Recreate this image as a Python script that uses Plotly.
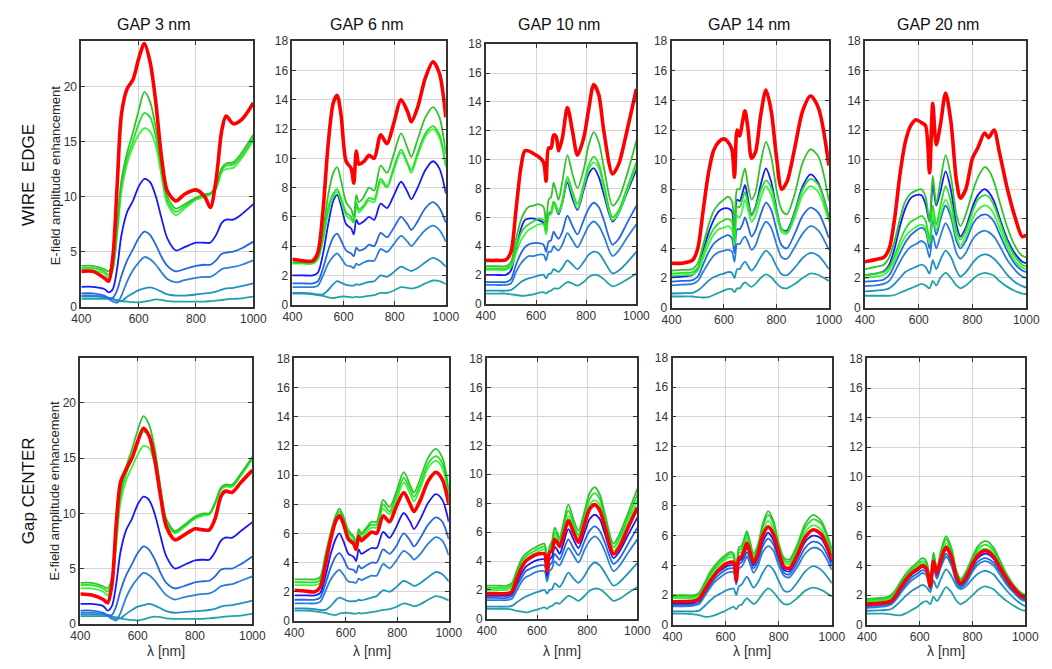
import plotly.graph_objects as go

W, H = 1052, 669
FONT = "Liberation Sans, Arial, sans-serif"

# Curve order (bottom -> top in drawing order) and styling
series = ["teal2", "teal1", "blue3", "blue2", "blue1", "green3", "green2", "green1", "red"]
colors = {
    "red": "#ff0000",
    "green1": "#2fc42a",
    "green2": "#25e025",
    "green3": "#3cf53c",
    "blue1": "#1818ff",
    "blue2": "#2466e6",
    "blue3": "#2a80d8",
    "teal1": "#2191c0",
    "teal2": "#22a3a6",
}
widths = {k: 1.8 for k in colors}
widths["red"] = 3.6

# ---------------- GAP 3 nm ----------------
wl_gap3 = [400, 440, 480, 495, 510, 525, 540, 560, 580, 600, 620, 640, 660, 680,
           700, 730, 760, 800, 830, 850, 870, 890, 905, 930, 960, 1000]
edge_gap3 = dict(
    red=[3.2, 3.2, 2.6, 2.3, 4.5, 11.0, 17.5, 19.8, 20.6, 22.5, 23.9, 22.2, 18.5, 13.5, 10.5, 9.6, 10.2, 10.6, 10.0, 9.0, 11.5, 16.0, 17.3, 16.6, 17.0, 18.5],
    green1=[3.7, 3.7, 3.4, 3.2, 4.0, 7.5, 11.5, 14.0, 15.8, 17.8, 19.5, 18.6, 16.2, 12.8, 10.0, 8.9, 9.3, 9.9, 10.2, 10.3, 11.0, 12.6, 13.0, 13.1, 14.0, 15.6],
    green2=[3.5, 3.5, 3.2, 2.9, 3.6, 7.0, 11.0, 13.5, 15.0, 16.6, 17.6, 17.2, 15.4, 12.3, 9.6, 8.6, 9.1, 9.8, 10.1, 10.2, 10.8, 12.4, 12.8, 12.9, 13.7, 15.3],
    green3=[3.3, 3.3, 3.0, 2.6, 3.3, 6.5, 10.5, 13.0, 14.5, 15.6, 16.2, 15.9, 14.6, 11.8, 9.3, 8.3, 8.9, 9.7, 10.0, 10.2, 10.7, 12.2, 12.5, 12.6, 13.5, 15.1],
    blue1=[1.8, 1.8, 1.6, 1.3, 1.6, 3.5, 6.5, 8.6, 9.6, 10.9, 11.6, 11.3, 10.0, 8.0, 6.2, 5.1, 5.4, 5.8, 5.8, 5.8, 6.5, 7.6, 7.9, 7.9, 8.4, 9.3],
    blue2=[1.2, 1.2, 1.0, 0.8, 0.8, 1.5, 2.8, 4.2, 5.2, 6.2, 6.8, 6.5, 5.6, 4.5, 3.7, 3.2, 3.4, 3.7, 3.8, 3.8, 4.2, 4.8, 4.9, 5.0, 5.3, 5.9],
    blue3=[1.0, 1.0, 0.9, 0.7, 0.45, 0.35, 1.0, 2.3, 3.3, 4.0, 4.5, 4.3, 3.8, 3.1, 2.5, 2.2, 2.4, 2.6, 2.7, 2.7, 3.0, 3.4, 3.5, 3.6, 3.8, 4.2],
    teal1=[0.9, 0.9, 0.85, 0.8, 0.7, 0.5, 0.5, 0.9, 1.2, 1.5, 1.65, 1.75, 1.6, 1.35, 1.1, 1.0, 1.0, 1.1, 1.2, 1.25, 1.35, 1.55, 1.65, 1.7, 1.85, 2.1],
    teal2=[0.7, 0.7, 0.7, 0.7, 0.65, 0.6, 0.5, 0.45, 0.4, 0.38, 0.45, 0.55, 0.65, 0.6, 0.5, 0.45, 0.45, 0.45, 0.45, 0.5, 0.55, 0.6, 0.65, 0.7, 0.75, 0.9],
)
center_gap3 = dict(
    red=[2.7, 2.6, 2.2, 1.9, 3.5, 9.0, 12.8, 14.0, 15.0, 16.5, 17.7, 17.0, 14.8, 11.5, 8.8, 7.6, 8.0, 8.6, 8.5, 8.5, 9.5, 11.5, 12.0, 11.9, 12.8, 13.9],
    green1=[3.7, 3.7, 3.4, 3.2, 4.2, 8.0, 12.0, 14.2, 15.8, 17.5, 18.8, 18.0, 15.8, 12.3, 9.5, 8.4, 8.9, 9.7, 10.0, 10.0, 11.0, 12.3, 12.6, 12.6, 13.6, 15.1],
    green2=[3.5, 3.5, 3.2, 2.9, 3.8, 7.5, 11.5, 13.6, 15.0, 16.4, 17.4, 17.0, 15.2, 12.0, 9.3, 8.3, 8.8, 9.6, 9.9, 9.95, 10.9, 12.2, 12.5, 12.5, 13.5, 15.0],
    green3=[3.2, 3.2, 2.9, 2.6, 3.4, 7.0, 11.0, 13.0, 14.2, 15.3, 16.1, 15.9, 14.4, 11.6, 9.1, 8.2, 8.7, 9.5, 9.8, 9.9, 10.8, 12.1, 12.4, 12.4, 13.4, 14.9],
    blue1=[1.8, 1.8, 1.6, 1.2, 1.6, 3.6, 6.5, 8.5, 9.5, 10.8, 11.5, 11.2, 9.9, 7.9, 6.1, 5.0, 5.3, 5.75, 5.8, 5.8, 6.5, 7.5, 7.8, 7.8, 8.4, 9.2],
    blue2=[1.2, 1.2, 1.0, 0.8, 0.8, 1.6, 3.0, 4.4, 5.4, 6.4, 7.0, 6.7, 5.8, 4.6, 3.7, 3.2, 3.4, 3.75, 3.85, 3.9, 4.3, 4.9, 5.0, 5.0, 5.4, 6.1],
    blue3=[1.0, 1.0, 0.9, 0.7, 0.45, 0.3, 1.0, 2.4, 3.4, 4.1, 4.6, 4.4, 3.9, 3.2, 2.6, 2.2, 2.4, 2.6, 2.7, 2.75, 3.0, 3.4, 3.5, 3.6, 3.9, 4.3],
    teal1=[0.85, 0.85, 0.8, 0.75, 0.6, 0.45, 0.5, 0.9, 1.25, 1.55, 1.7, 1.8, 1.65, 1.4, 1.15, 1.0, 1.05, 1.15, 1.2, 1.25, 1.35, 1.55, 1.65, 1.7, 1.85, 2.1],
    teal2=[0.7, 0.7, 0.7, 0.7, 0.65, 0.6, 0.5, 0.4, 0.35, 0.3, 0.4, 0.55, 0.65, 0.6, 0.5, 0.45, 0.45, 0.45, 0.45, 0.5, 0.55, 0.6, 0.65, 0.7, 0.75, 0.9],
)

# ---------------- GAP 6 nm ----------------
wl_gap6 = [400, 440, 480, 500, 520, 540, 560, 575, 590, 610, 630, 640, 650, 660,
           680, 700, 720, 745, 770, 795, 825, 850, 865, 890, 920, 950, 975, 1000]
edge_gap6 = dict(
    red=[3.1, 3.0, 3.0, 3.6, 6.5, 11.0, 13.8, 14.3, 13.0, 9.8, 9.3, 8.3, 10.5, 9.6, 9.8, 10.2, 10.0, 11.6, 11.0, 12.3, 14.0, 13.2, 12.5, 13.5, 15.5, 16.6, 15.8, 12.8],
    green1=[2.9, 2.9, 2.9, 3.3, 5.0, 7.5, 9.0, 9.4, 8.5, 7.0, 6.5, 6.0, 7.5, 7.0, 7.4, 8.0, 7.8, 9.5, 9.0, 10.2, 11.7, 10.7, 10.1, 11.3, 12.8, 13.5, 12.8, 10.3],
    green2=[2.85, 2.85, 2.85, 3.2, 4.6, 6.6, 7.6, 7.9, 7.3, 6.3, 6.0, 5.7, 7.0, 6.5, 6.8, 7.3, 7.2, 8.6, 8.1, 9.3, 10.6, 9.7, 9.2, 10.4, 11.7, 12.2, 11.6, 9.5],
    green3=[2.8, 2.8, 2.8, 3.1, 4.4, 6.3, 7.4, 7.7, 7.1, 6.1, 5.8, 5.6, 6.8, 6.3, 6.7, 7.1, 7.0, 8.4, 8.0, 9.1, 10.4, 9.6, 9.0, 10.2, 11.5, 12.0, 11.4, 9.4],
    blue1=[2.0, 2.0, 2.0, 2.2, 3.5, 5.5, 7.1, 7.5, 6.8, 5.5, 5.2, 4.8, 5.8, 5.5, 5.7, 6.0, 5.8, 6.9, 6.6, 7.4, 8.4, 7.7, 7.2, 8.0, 9.2, 9.8, 9.3, 7.6],
    blue2=[1.45, 1.45, 1.45, 1.6, 2.5, 3.7, 4.6, 4.85, 4.4, 3.7, 3.5, 3.3, 3.9, 3.7, 3.8, 4.1, 4.0, 4.9, 4.6, 5.2, 6.0, 5.5, 5.1, 5.7, 6.6, 7.0, 6.6, 5.6],
    blue3=[1.2, 1.2, 1.2, 1.3, 2.0, 2.8, 3.3, 3.5, 3.2, 2.7, 2.6, 2.5, 2.8, 2.7, 2.9, 3.0, 3.0, 3.8, 3.6, 4.1, 4.7, 4.3, 4.0, 4.5, 5.1, 5.4, 5.1, 4.3],
    teal1=[0.8, 0.8, 0.75, 0.7, 0.7, 1.0, 1.4, 1.6, 1.5, 1.35, 1.3, 1.3, 1.4, 1.35, 1.45, 1.55, 1.6, 2.0, 1.9, 2.2, 2.6, 2.4, 2.3, 2.5, 2.9, 3.2, 3.0, 2.6],
    teal2=[0.75, 0.75, 0.7, 0.65, 0.6, 0.5, 0.45, 0.5, 0.55, 0.55, 0.5, 0.5, 0.55, 0.5, 0.55, 0.6, 0.65, 0.8, 0.8, 0.95, 1.2, 1.15, 1.1, 1.2, 1.45, 1.65, 1.6, 1.4],
)
center_gap6 = dict(
    red=[2.1, 2.05, 2.0, 2.3, 3.8, 5.5, 6.8, 7.2, 6.7, 5.6, 5.3, 4.9, 5.8, 5.5, 5.8, 6.1, 6.0, 7.2, 6.8, 7.8, 8.8, 8.0, 7.5, 8.3, 9.6, 10.2, 9.7, 8.0],
    green1=[2.85, 2.85, 2.85, 3.0, 4.5, 6.0, 7.2, 7.7, 7.2, 6.2, 5.8, 5.4, 6.3, 6.0, 6.4, 6.8, 6.8, 8.3, 7.8, 8.8, 10.2, 9.3, 8.8, 9.8, 11.2, 11.8, 11.2, 9.0],
    green2=[2.65, 2.65, 2.65, 2.8, 4.3, 5.8, 7.0, 7.5, 7.0, 6.0, 5.7, 5.3, 6.2, 5.9, 6.3, 6.6, 6.6, 8.0, 7.5, 8.5, 9.8, 9.0, 8.5, 9.4, 10.8, 11.3, 10.8, 8.7],
    green3=[2.45, 2.45, 2.45, 2.6, 4.1, 5.6, 6.8, 7.3, 6.8, 5.8, 5.5, 5.1, 6.0, 5.7, 6.1, 6.4, 6.4, 7.7, 7.3, 8.2, 9.5, 8.7, 8.2, 9.1, 10.5, 11.0, 10.5, 8.5],
    blue1=[1.75, 1.75, 1.75, 1.9, 3.0, 4.5, 5.6, 6.0, 5.5, 4.6, 4.4, 4.1, 4.9, 4.6, 4.8, 5.0, 5.0, 6.1, 5.7, 6.4, 7.4, 6.8, 6.3, 7.0, 8.1, 8.7, 8.3, 6.8],
    blue2=[1.45, 1.45, 1.45, 1.6, 2.5, 3.6, 4.4, 4.65, 4.3, 3.6, 3.5, 3.3, 3.8, 3.6, 3.8, 4.0, 4.0, 4.9, 4.6, 5.1, 6.0, 5.5, 5.1, 5.7, 6.6, 7.1, 6.8, 5.6],
    blue3=[1.2, 1.2, 1.2, 1.3, 2.0, 2.8, 3.3, 3.5, 3.2, 2.7, 2.65, 2.6, 2.9, 2.8, 2.95, 3.1, 3.1, 3.9, 3.6, 4.1, 4.8, 4.5, 4.2, 4.6, 5.3, 5.75, 5.5, 4.5],
    teal1=[0.85, 0.85, 0.8, 0.75, 0.75, 1.0, 1.4, 1.6, 1.5, 1.35, 1.35, 1.35, 1.45, 1.4, 1.5, 1.6, 1.7, 2.1, 2.0, 2.3, 2.75, 2.55, 2.4, 2.6, 3.0, 3.35, 3.2, 2.7],
    teal2=[0.7, 0.7, 0.65, 0.6, 0.55, 0.45, 0.4, 0.5, 0.55, 0.55, 0.5, 0.5, 0.55, 0.5, 0.55, 0.6, 0.65, 0.75, 0.8, 0.95, 1.2, 1.1, 1.0, 1.15, 1.45, 1.7, 1.6, 1.4],
)

# ---------------- GAP 10 nm ----------------
wl_gap10 = [400, 440, 480, 500, 520, 540, 555, 570, 590, 610, 630, 640, 650, 660, 670,
            680, 690, 705, 725, 745, 765, 790, 810, 830, 850, 870, 905, 930, 960, 1000]
edge_gap10 = dict(
    red=[3.0, 3.0, 3.05, 3.6, 6.5, 9.5, 10.6, 10.6, 10.4, 10.2, 9.8, 8.5, 10.8, 10.8, 11.7, 11.6, 10.6, 11.5, 13.6, 12.0, 10.3, 11.5, 13.5, 15.2, 14.5, 12.0, 9.0, 9.7, 11.8, 14.9],
    green1=[2.6, 2.6, 2.6, 2.9, 4.5, 5.8, 6.4, 6.7, 6.8, 6.9, 6.7, 5.5, 7.2, 7.4, 8.4, 7.8, 7.2, 8.5, 10.3, 9.0, 8.0, 9.3, 11.0, 11.9, 11.2, 9.5, 6.8, 7.3, 8.8, 11.3],
    green2=[2.45, 2.45, 2.45, 2.7, 3.9, 4.9, 5.3, 5.5, 5.7, 5.9, 5.8, 5.0, 6.3, 6.4, 7.1, 6.8, 6.4, 7.2, 8.8, 7.8, 6.9, 8.3, 9.6, 10.2, 9.7, 8.3, 6.0, 6.5, 7.9, 9.8],
    green3=[2.35, 2.35, 2.35, 2.55, 3.5, 4.4, 4.8, 5.1, 5.3, 5.5, 5.5, 4.8, 6.1, 6.2, 6.9, 6.6, 6.3, 7.0, 8.6, 7.6, 6.6, 8.1, 9.3, 9.8, 9.4, 8.0, 5.8, 6.3, 7.7, 9.6],
    blue1=[2.0, 2.0, 2.0, 2.3, 3.8, 5.2, 5.8, 5.9, 5.9, 5.8, 5.6, 5.0, 6.2, 6.3, 7.0, 6.6, 6.2, 7.0, 8.4, 7.3, 6.5, 7.9, 9.0, 9.4, 8.8, 7.6, 5.7, 6.3, 7.6, 9.3],
    blue2=[1.5, 1.5, 1.5, 1.7, 2.7, 3.5, 3.9, 4.1, 4.2, 4.2, 4.1, 3.6, 4.3, 4.4, 5.0, 4.7, 4.5, 5.0, 6.1, 5.4, 4.8, 5.8, 6.6, 7.0, 6.7, 5.8, 4.1, 4.5, 5.5, 6.8],
    blue3=[1.3, 1.3, 1.3, 1.4, 2.2, 2.8, 3.1, 3.3, 3.3, 3.4, 3.4, 3.0, 3.6, 3.6, 4.0, 3.8, 3.7, 4.1, 4.9, 4.4, 3.9, 4.7, 5.4, 5.7, 5.4, 4.7, 3.3, 3.7, 4.5, 5.5],
    teal1=[0.9, 0.9, 0.9, 0.95, 1.2, 1.5, 1.65, 1.75, 1.85, 1.95, 2.0, 1.75, 2.05, 2.1, 2.4, 2.3, 2.2, 2.5, 3.0, 2.7, 2.4, 2.9, 3.4, 3.6, 3.5, 3.0, 2.1, 2.3, 2.8, 3.6],
    teal2=[0.7, 0.7, 0.7, 0.65, 0.6, 0.55, 0.55, 0.6, 0.65, 0.75, 0.8, 0.7, 0.85, 0.9, 1.05, 1.05, 1.05, 1.25, 1.5, 1.4, 1.25, 1.5, 1.85, 2.0, 1.95, 1.7, 1.2, 1.35, 1.65, 2.1],
)
center_gap10 = dict(
    red=[1.75, 1.75, 1.75, 1.9, 2.8, 3.6, 4.0, 4.2, 4.4, 4.5, 4.5, 3.3, 4.6, 4.7, 5.5, 5.3, 5.0, 5.7, 6.8, 6.0, 5.3, 6.6, 7.6, 7.9, 7.5, 6.4, 4.5, 5.0, 6.2, 7.7],
    green1=[2.3, 2.3, 2.3, 2.5, 3.4, 4.2, 4.5, 4.7, 4.9, 5.1, 5.2, 4.0, 5.0, 5.4, 6.3, 6.0, 5.6, 6.6, 7.9, 6.9, 6.1, 7.5, 8.7, 9.1, 8.6, 7.3, 5.2, 5.9, 7.2, 9.0],
    green2=[2.15, 2.15, 2.15, 2.35, 3.2, 4.0, 4.3, 4.5, 4.7, 4.9, 5.0, 3.8, 4.8, 5.2, 6.0, 5.8, 5.4, 6.3, 7.5, 6.6, 5.8, 7.2, 8.3, 8.7, 8.3, 7.0, 4.95, 5.6, 6.9, 8.6],
    green3=[2.0, 2.0, 2.0, 2.2, 3.0, 3.8, 4.1, 4.3, 4.5, 4.7, 4.8, 3.6, 4.7, 5.0, 5.8, 5.6, 5.2, 6.0, 7.1, 6.3, 5.6, 6.9, 7.9, 8.2, 7.9, 6.7, 4.7, 5.3, 6.6, 8.2],
    blue1=[1.6, 1.6, 1.6, 1.75, 2.5, 3.2, 3.6, 3.8, 4.0, 4.1, 4.1, 3.0, 4.1, 4.3, 5.0, 4.8, 4.5, 5.2, 6.2, 5.5, 4.9, 6.0, 6.9, 7.2, 6.9, 5.9, 4.2, 4.7, 5.7, 7.0],
    blue2=[1.45, 1.45, 1.45, 1.6, 2.3, 2.9, 3.3, 3.45, 3.6, 3.7, 3.7, 2.8, 3.7, 3.9, 4.5, 4.3, 4.1, 4.7, 5.5, 4.9, 4.4, 5.4, 6.1, 6.4, 6.1, 5.3, 3.8, 4.2, 5.1, 6.3],
    blue3=[1.3, 1.3, 1.3, 1.4, 2.0, 2.6, 2.9, 3.0, 3.2, 3.3, 3.3, 2.6, 3.3, 3.5, 4.0, 3.8, 3.7, 4.2, 4.9, 4.4, 3.9, 4.8, 5.4, 5.7, 5.4, 4.7, 3.3, 3.7, 4.5, 5.5],
    teal1=[0.85, 0.85, 0.85, 0.9, 1.15, 1.4, 1.55, 1.65, 1.8, 1.9, 2.0, 1.75, 2.0, 2.05, 2.45, 2.35, 2.2, 2.6, 3.2, 2.8, 2.5, 3.0, 3.6, 3.9, 3.7, 3.2, 2.3, 2.55, 3.1, 3.85],
    teal2=[0.7, 0.7, 0.7, 0.65, 0.55, 0.5, 0.45, 0.5, 0.6, 0.7, 0.8, 0.7, 0.85, 0.9, 1.05, 1.1, 1.05, 1.3, 1.6, 1.45, 1.25, 1.6, 1.95, 2.1, 2.05, 1.8, 1.25, 1.4, 1.75, 2.2],
)

# ---------------- GAP 14 nm ----------------
wl_gap14 = [400, 440, 480, 500, 520, 540, 560, 580, 600, 615, 630, 640, 650, 660, 670,
            680, 692, 705, 720, 740, 760, 780, 800, 820, 840, 870, 900, 930, 960, 1000]
edge_gap14 = dict(
    red=[3.0, 3.0, 3.2, 4.0, 6.5, 9.0, 10.6, 11.2, 11.4, 11.2, 10.7, 8.8, 12.0, 11.6, 12.5, 13.3, 12.0, 10.1, 10.5, 13.0, 14.7, 13.3, 10.2, 8.0, 8.5, 10.8, 13.3, 14.3, 13.5, 9.6],
    green1=[2.5, 2.55, 2.6, 3.0, 4.2, 5.5, 6.5, 7.0, 7.3, 7.5, 7.2, 5.5, 8.0, 8.0, 8.8, 9.4, 8.2, 7.3, 7.8, 9.8, 11.2, 10.2, 8.0, 6.6, 6.3, 7.7, 9.8, 10.7, 10.2, 7.2],
    green2=[2.3, 2.35, 2.4, 2.7, 3.6, 4.6, 5.3, 5.7, 5.9, 6.0, 5.8, 4.5, 6.8, 6.8, 7.3, 7.8, 7.0, 6.2, 6.7, 7.9, 8.6, 8.1, 6.6, 5.3, 5.1, 6.4, 8.0, 8.7, 8.3, 6.0],
    green3=[2.15, 2.2, 2.25, 2.5, 3.3, 4.2, 4.9, 5.3, 5.4, 5.5, 5.3, 4.2, 6.2, 6.1, 6.6, 7.3, 6.6, 5.8, 6.2, 7.4, 8.2, 7.6, 6.3, 5.1, 5.0, 6.1, 7.6, 8.2, 7.8, 5.8],
    blue1=[2.05, 2.1, 2.2, 2.6, 3.8, 5.0, 5.9, 6.5, 6.7, 6.7, 6.5, 4.5, 7.3, 7.2, 7.7, 8.3, 7.3, 6.3, 6.8, 8.3, 9.4, 8.5, 6.7, 5.3, 5.2, 6.5, 8.2, 9.0, 8.4, 6.1],
    blue2=[1.75, 1.8, 1.85, 2.1, 2.9, 3.7, 4.3, 4.6, 4.8, 4.9, 4.7, 3.7, 5.3, 5.3, 5.6, 6.1, 5.5, 4.8, 5.2, 6.3, 7.1, 6.6, 5.3, 4.2, 4.0, 5.0, 6.2, 6.75, 6.4, 4.7],
    blue3=[1.5, 1.55, 1.6, 1.8, 2.4, 3.0, 3.5, 3.75, 3.85, 3.9, 3.8, 3.1, 4.3, 4.3, 4.6, 4.8, 4.4, 3.9, 4.2, 5.2, 5.8, 5.4, 4.3, 3.4, 3.3, 4.1, 5.0, 5.5, 5.2, 3.9],
    teal1=[0.95, 0.97, 1.0, 1.15, 1.45, 1.8, 2.05, 2.2, 2.3, 2.4, 2.35, 2.0, 2.6, 2.6, 2.9, 3.1, 2.8, 2.5, 2.8, 3.4, 3.85, 3.5, 2.8, 2.25, 2.2, 2.7, 3.35, 3.7, 3.5, 2.6],
    teal2=[0.75, 0.75, 0.75, 0.7, 0.68, 0.7, 0.85, 1.0, 1.15, 1.25, 1.25, 1.05, 1.3, 1.3, 1.55, 1.7, 1.55, 1.4, 1.6, 2.0, 2.25, 2.05, 1.65, 1.35, 1.3, 1.6, 2.0, 2.3, 2.2, 1.8],
)
center_gap14 = dict(
    red=[1.55, 1.57, 1.6, 1.75, 2.3, 2.9, 3.4, 3.8, 4.1, 4.2, 4.2, 3.0, 4.5, 4.6, 5.0, 5.5, 4.9, 4.2, 4.7, 6.0, 6.6, 6.1, 4.9, 3.9, 3.8, 4.7, 5.9, 6.4, 6.1, 4.4],
    green1=[2.0, 2.0, 2.0, 2.15, 2.8, 3.5, 4.0, 4.4, 4.7, 4.9, 4.8, 3.2, 5.2, 5.3, 5.8, 6.3, 5.6, 4.8, 5.3, 6.8, 7.65, 7.0, 5.5, 4.5, 4.4, 5.4, 6.8, 7.4, 7.0, 5.1],
    green2=[1.9, 1.9, 1.9, 2.05, 2.7, 3.35, 3.85, 4.25, 4.55, 4.75, 4.65, 3.1, 5.0, 5.1, 5.6, 6.1, 5.4, 4.6, 5.1, 6.6, 7.4, 6.8, 5.3, 4.35, 4.25, 5.2, 6.55, 7.1, 6.8, 4.9],
    green3=[1.8, 1.8, 1.8, 1.95, 2.55, 3.2, 3.7, 4.1, 4.4, 4.55, 4.5, 3.05, 4.8, 4.9, 5.35, 5.85, 5.2, 4.45, 4.9, 6.3, 7.0, 6.45, 5.1, 4.2, 4.1, 5.0, 6.25, 6.7, 6.4, 4.7],
    blue1=[1.45, 1.45, 1.5, 1.65, 2.2, 2.8, 3.3, 3.65, 3.9, 4.0, 4.0, 2.9, 4.3, 4.4, 4.8, 5.2, 4.7, 4.0, 4.5, 5.6, 6.2, 5.7, 4.6, 3.7, 3.6, 4.5, 5.6, 6.0, 5.8, 4.2],
    blue2=[1.35, 1.35, 1.4, 1.5, 2.05, 2.6, 3.1, 3.45, 3.7, 3.8, 3.8, 2.8, 4.1, 4.2, 4.5, 4.9, 4.4, 3.8, 4.2, 5.3, 5.8, 5.4, 4.35, 3.5, 3.4, 4.2, 5.2, 5.6, 5.4, 4.0],
    blue3=[1.25, 1.25, 1.3, 1.4, 1.9, 2.45, 2.9, 3.2, 3.45, 3.55, 3.55, 2.7, 3.8, 3.9, 4.2, 4.6, 4.1, 3.5, 3.9, 4.9, 5.3, 5.0, 4.0, 3.3, 3.2, 3.9, 4.8, 5.2, 5.0, 3.7],
    teal1=[0.9, 0.9, 0.9, 0.95, 1.25, 1.6, 1.9, 2.1, 2.3, 2.4, 2.45, 2.0, 2.6, 2.7, 3.0, 3.25, 2.9, 2.5, 2.8, 3.5, 4.0, 3.7, 2.95, 2.3, 2.25, 2.85, 3.6, 3.95, 3.7, 2.8],
    teal2=[0.75, 0.75, 0.7, 0.65, 0.55, 0.55, 0.65, 0.8, 0.95, 1.1, 1.2, 1.05, 1.3, 1.35, 1.6, 1.8, 1.6, 1.4, 1.6, 2.1, 2.45, 2.2, 1.75, 1.4, 1.4, 1.8, 2.3, 2.5, 2.35, 1.9],
)

# ---------------- GAP 20 nm ----------------
wl_gap20 = [400, 440, 470, 490, 510, 530, 550, 570, 590, 610, 625, 640, 652, 665, 680,
            700, 720, 740, 755, 775, 800, 820, 845, 860, 880, 900, 930, 960, 985, 1000]
edge_gap20 = dict(
    red=[3.1, 3.25, 3.4, 4.0, 6.0, 9.0, 11.2, 12.3, 12.7, 12.5, 12.3, 9.1, 13.8, 11.0, 12.3, 14.5, 12.5, 8.6, 7.4, 8.0, 10.1, 10.8, 11.8, 11.5, 12.0, 10.5, 8.0, 6.0, 4.8, 4.9],
    green1=[2.6, 2.75, 2.9, 3.4, 4.5, 6.0, 7.2, 7.7, 7.9, 8.0, 7.5, 5.8, 8.9, 7.0, 8.5, 10.3, 8.8, 6.3, 5.5, 6.3, 7.8, 8.8, 9.5, 9.3, 8.5, 7.2, 5.4, 4.1, 3.5, 3.4],
    green2=[2.2, 2.3, 2.4, 2.75, 3.5, 4.5, 5.3, 5.8, 6.0, 6.2, 5.9, 4.6, 6.9, 5.6, 6.8, 8.2, 7.1, 5.2, 4.6, 5.2, 6.5, 7.3, 7.6, 7.5, 6.9, 5.9, 4.4, 3.4, 2.9, 2.8],
    green3=[2.0, 2.1, 2.2, 2.55, 3.2, 4.1, 4.8, 5.2, 5.45, 5.6, 5.4, 4.3, 6.3, 5.2, 6.2, 7.3, 6.4, 4.8, 4.2, 4.8, 6.0, 6.6, 6.9, 6.8, 6.3, 5.4, 4.1, 3.1, 2.7, 2.6],
    blue1=[2.2, 2.3, 2.45, 2.9, 4.0, 5.5, 6.7, 7.4, 7.6, 7.6, 7.0, 5.8, 8.3, 6.9, 7.8, 9.2, 7.9, 5.6, 4.8, 5.4, 6.8, 7.6, 8.0, 7.8, 7.2, 6.1, 4.6, 3.6, 3.1, 3.0],
    blue2=[1.75, 1.8, 1.9, 2.2, 2.9, 3.7, 4.4, 4.9, 5.2, 5.4, 5.2, 4.0, 6.0, 4.9, 5.9, 6.9, 6.1, 4.5, 4.0, 4.5, 5.6, 6.1, 6.3, 6.2, 5.8, 5.0, 3.8, 2.9, 2.5, 2.4],
    blue3=[1.45, 1.5, 1.6, 1.8, 2.4, 3.1, 3.7, 4.1, 4.3, 4.5, 4.3, 3.4, 4.9, 4.0, 4.8, 5.7, 5.0, 3.7, 3.3, 3.7, 4.6, 5.0, 5.2, 5.1, 4.8, 4.2, 3.2, 2.5, 2.1, 2.0],
    teal1=[1.1, 1.15, 1.2, 1.3, 1.6, 2.0, 2.4, 2.6, 2.75, 2.9, 2.75, 2.3, 3.2, 2.6, 3.2, 3.85, 3.4, 2.5, 2.1, 2.4, 3.0, 3.4, 3.6, 3.55, 3.3, 2.9, 2.2, 1.7, 1.45, 1.35],
    teal2=[0.8, 0.8, 0.8, 0.8, 0.85, 1.0, 1.15, 1.3, 1.45, 1.6, 1.5, 1.3, 1.8, 1.5, 2.0, 2.35, 2.0, 1.5, 1.3, 1.5, 1.9, 2.2, 2.35, 2.3, 2.15, 1.8, 1.4, 1.1, 0.95, 0.9],
)
center_gap20 = dict(
    red=[1.4, 1.45, 1.5, 1.6, 2.0, 2.6, 3.1, 3.5, 3.75, 4.0, 3.8, 2.6, 4.3, 3.5, 4.4, 5.25, 4.6, 3.2, 2.8, 3.2, 4.1, 4.7, 5.0, 4.95, 4.6, 4.0, 3.1, 2.4, 1.95, 1.85],
    green1=[1.75, 1.8, 1.85, 2.0, 2.4, 3.0, 3.5, 3.9, 4.2, 4.5, 4.3, 3.0, 4.9, 3.8, 5.0, 6.0, 5.2, 3.6, 3.1, 3.6, 4.6, 5.3, 5.65, 5.6, 5.2, 4.5, 3.4, 2.6, 2.15, 2.05],
    green2=[1.65, 1.7, 1.75, 1.9, 2.3, 2.85, 3.35, 3.75, 4.05, 4.3, 4.15, 2.9, 4.75, 3.7, 4.85, 5.8, 5.0, 3.45, 3.0, 3.5, 4.45, 5.1, 5.4, 5.35, 5.0, 4.3, 3.3, 2.5, 2.1, 2.0],
    green3=[1.55, 1.6, 1.65, 1.8, 2.2, 2.75, 3.25, 3.65, 3.9, 4.15, 4.0, 2.8, 4.55, 3.6, 4.65, 5.5, 4.8, 3.35, 2.9, 3.35, 4.3, 4.9, 5.15, 5.1, 4.8, 4.15, 3.2, 2.45, 2.05, 1.95],
    blue1=[1.35, 1.4, 1.45, 1.55, 1.95, 2.5, 3.0, 3.4, 3.65, 3.9, 3.7, 2.55, 4.2, 3.4, 4.3, 5.1, 4.45, 3.1, 2.7, 3.1, 3.95, 4.5, 4.8, 4.75, 4.45, 3.9, 3.0, 2.3, 1.9, 1.8],
    blue2=[1.25, 1.3, 1.35, 1.45, 1.8, 2.35, 2.8, 3.2, 3.45, 3.7, 3.55, 2.45, 4.0, 3.25, 4.1, 4.8, 4.2, 2.95, 2.6, 2.95, 3.75, 4.25, 4.5, 4.45, 4.2, 3.7, 2.85, 2.2, 1.8, 1.7],
    blue3=[1.15, 1.2, 1.25, 1.35, 1.7, 2.2, 2.65, 3.0, 3.25, 3.5, 3.35, 2.35, 3.8, 3.1, 3.9, 4.6, 4.0, 2.8, 2.5, 2.8, 3.6, 4.05, 4.3, 4.25, 4.0, 3.5, 2.7, 2.1, 1.7, 1.6],
    teal1=[0.95, 0.97, 1.0, 1.05, 1.3, 1.65, 2.0, 2.3, 2.5, 2.7, 2.55, 2.2, 3.0, 2.5, 3.1, 3.75, 3.3, 2.6, 2.4, 2.6, 3.1, 3.45, 3.65, 3.6, 3.4, 2.95, 2.3, 1.75, 1.4, 1.25],
    teal2=[0.75, 0.75, 0.75, 0.7, 0.65, 0.65, 0.8, 1.0, 1.2, 1.5, 1.6, 1.4, 1.9, 1.6, 2.0, 2.55, 2.2, 1.6, 1.4, 1.6, 2.0, 2.35, 2.6, 2.55, 2.4, 2.05, 1.6, 1.25, 1.0, 0.95],
)

gap_titles = ["GAP 3 nm", "GAP 6 nm", "GAP 10 nm", "GAP 14 nm", "GAP 20 nm"]
x_ticks = [400, 600, 800, 1000]
y_ticks_gap3 = [0, 5, 10, 15, 20]
y_ticks_other = [0, 2, 4, 6, 8, 10, 12, 14, 16, 18]

# Panel boxes in pixels: (left, top, right, bottom)
panels = [
    (wl_gap3, edge_gap3, (73, 35, 249, 306), 24.1, y_ticks_gap3),
    (wl_gap6, edge_gap6, (289, 35, 446, 304), 18, y_ticks_other),
    (wl_gap10, edge_gap10, (487, 38, 641, 303), 18, y_ticks_other),
    (wl_gap14, edge_gap14, (677, 35, 838, 307), 18, y_ticks_other),
    (wl_gap20, edge_gap20, (875, 35, 1040, 307), 18, y_ticks_other),
    (wl_gap3, center_gap3, (72, 358, 248, 630), 24.1, y_ticks_gap3),
    (wl_gap6, center_gap6, (291, 359, 449, 627), 18, y_ticks_other),
    (wl_gap10, center_gap10, (488, 359, 642, 625), 18, y_ticks_other),
    (wl_gap14, center_gap14, (678, 358, 841, 631), 18, y_ticks_other),
    (wl_gap20, center_gap20, (877, 359, 1039, 631), 18, y_ticks_other),
]

fig = go.Figure()
layout = {}
axis_common = dict(
    showline=True, linecolor="#333333", linewidth=1.8, mirror="ticks",
    ticks="inside", ticklen=4, tickcolor="#333333", tickwidth=1,
    showgrid=True, gridcolor="#d6d6d6", gridwidth=1, zeroline=False,
    tickfont=dict(family=FONT, size=12, color="#333333"),
)

for i, (wl, data, (l, t, r, b), ymax, yt) in enumerate(panels):
    n = "" if i == 0 else str(i + 1)
    layout["xaxis" + n] = dict(
        axis_common, domain=[l / W, r / W], range=[400, 1000],
        tickvals=x_ticks, anchor="y" + n,
    )
    layout["yaxis" + n] = dict(
        axis_common, domain=[1 - b / H, 1 - t / H], range=[0, ymax],
        tickvals=yt, anchor="x" + n,
    )
    for s in series:
        fig.add_trace(go.Scatter(
            x=wl, y=data[s], mode="lines",
            line=dict(color=colors[s], width=widths[s], shape="spline", smoothing=0.8),
            xaxis="x" + n, yaxis="y" + n, showlegend=False, hoverinfo="skip",
        ))

annotations = []
title_x = [147, 365, 562, 756, 950]
for tx, title in zip(title_x, gap_titles):
    annotations.append(dict(
        x=tx / W, y=1 - 18 / H, xref="paper", yref="paper", text=title,
        showarrow=False, font=dict(family=FONT, size=16, color="#111111"),
        xanchor="center", yanchor="middle",
    ))

# Row labels and y-axis titles
for text, yc in [("WIRE  EDGE", 172), ("Gap CENTER", 494)]:
    annotations.append(dict(
        x=19 / W, y=1 - yc / H, xref="paper", yref="paper", text=text,
        showarrow=False, textangle=-90, font=dict(family=FONT, size=17, color="#111111"),
        xanchor="center", yanchor="middle",
    ))
for yc in [172, 494]:
    annotations.append(dict(
        x=46 / W, y=1 - yc / H, xref="paper", yref="paper",
        text="E-field amplitude enhancement",
        showarrow=False, textangle=-90, font=dict(family=FONT, size=13, color="#262626"),
        xanchor="center", yanchor="middle",
    ))

# Wavelength labels under the lower row
for xc in [160, 370, 565, 759, 958]:
    annotations.append(dict(
        x=xc / W, y=1 - 658 / H, xref="paper", yref="paper", text="λ [nm]",
        showarrow=False, font=dict(family=FONT, size=14, color="#333333"),
        xanchor="center", yanchor="middle",
    ))

fig.update_layout(
    width=W, height=H, margin=dict(l=0, r=0, t=0, b=0),
    paper_bgcolor="white", plot_bgcolor="white",
    annotations=annotations, showlegend=False,
    **layout,
)

fig.write_html("out.html")
